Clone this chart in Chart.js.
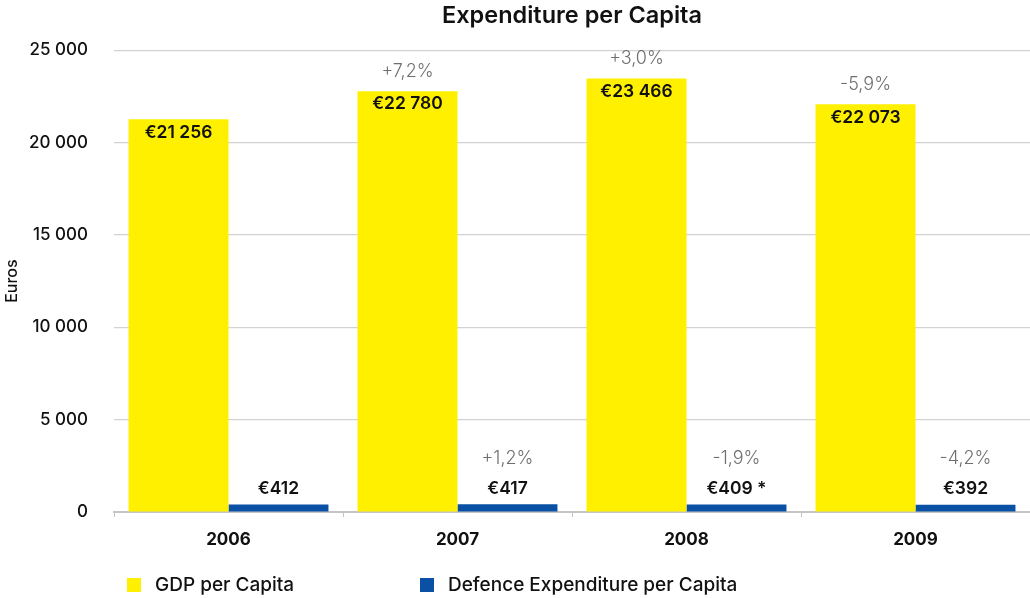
<!DOCTYPE html>
<html>
<head>
<meta charset="utf-8">
<script src="https://cdn.jsdelivr.net/npm/chart.js@4"></script>
<style>
  html, body { margin: 0; padding: 0; background: #fff; }
  #wrap { width: 1030px; height: 598px; position: relative; }
</style>
</head>
<body>
<div id="wrap"><canvas id="c"></canvas></div>
<script>
const years = ['2006', '2007', '2008', '2009'];
const gdpPerCapita = [21256, 22780, 23466, 22073];
const defencePerCapita = [412, 417, 409, 392];
const gdpChange = ['', '+7,2%', '+3,0%', '-5,9%'];
const defenceChange = ['', '+1,2%', '-1,9%', '-4,2%'];
const defenceNote = ['', '', ' *', ''];
const seriesNames = ['GDP per Capita', 'Defence Expenditure per Capita'];
const yTicks = [0, 5000, 10000, 15000, 20000, 25000];

const YELLOW = '#FFF000';
const BLUE = '#0A50A5';
const FONT = "Inter, 'Liberation Sans', Arial, sans-serif";

function fmt(n) {
  return String(n).replace(/\B(?=(\d{3})+(?!\d))/g, ' ');
}

const labelPlugin = {
  id: 'labels',
  afterDatasetsDraw(chart) {
    const ctx = chart.ctx;
    ctx.save();
    ctx.textAlign = 'center';
    ctx.textBaseline = 'middle';
    const m0 = chart.getDatasetMeta(0);
    const m1 = chart.getDatasetMeta(1);
    m0.data.forEach((bar, i) => {
      ctx.font = '600 17.5px ' + FONT;
      ctx.fillStyle = '#111';
      ctx.fillText('€' + fmt(gdpPerCapita[i]), bar.x, bar.y + 13);
      if (gdpChange[i]) {
        ctx.font = '300 18px ' + FONT;
        ctx.fillStyle = '#6f6f6f';
        ctx.fillText(gdpChange[i], bar.x, bar.y - 20);
      }
    });
    m1.data.forEach((bar, i) => {
      ctx.font = '600 17.5px ' + FONT;
      ctx.fillStyle = '#111';
      ctx.fillText('€' + fmt(defencePerCapita[i]) + defenceNote[i], bar.x, bar.y - 16);
      if (defenceChange[i]) {
        ctx.font = '300 18px ' + FONT;
        ctx.fillStyle = '#6f6f6f';
        ctx.fillText(defenceChange[i], bar.x, bar.y - 46);
      }
    });
    // legend
    const items = [
      { x: 127, color: YELLOW, text: seriesNames[0] },
      { x: 420, color: BLUE, text: seriesNames[1] }
    ];
    ctx.textAlign = 'left';
    items.forEach(it => {
      ctx.fillStyle = it.color;
      ctx.fillRect(it.x, 578, 14, 14);
      ctx.font = '500 19px ' + FONT;
      ctx.fillStyle = '#111';
      ctx.fillText(it.text, it.x + 28, 585);
    });
    ctx.restore();
  }
};

new Chart(document.getElementById('c'), {
  type: 'bar',
  data: {
    labels: years,
    datasets: [
      { label: seriesNames[0], data: gdpPerCapita, backgroundColor: YELLOW },
      { label: seriesNames[1], data: defencePerCapita, backgroundColor: BLUE }
    ]
  },
  options: {
    responsive: true,
    maintainAspectRatio: false,
    animation: false,
    devicePixelRatio: 1,
    layout: { padding: { left: 0, right: 0, top: 0, bottom: 38 } },
    datasets: { bar: { categoryPercentage: 0.873, barPercentage: 1.0 } },
    plugins: {
      legend: { display: false },
      tooltip: { enabled: false },
      title: {
        display: true,
        fullSize: false,
        text: 'Expenditure per Capita',
        color: '#111',
        font: { family: FONT, size: 23.5, weight: '600' },
        padding: { top: 2, bottom: 20 }
      }
    },
    scales: {
      x: {
        afterFit(scale) { scale.height = 48; },
        grid: { display: true, drawOnChartArea: false, drawTicks: true, tickLength: 5, color: '#c4c4c4', offset: true },
        border: { display: true, color: '#c4c4c4', width: 2 },
        ticks: { color: '#111', font: { family: FONT, size: 17, weight: '700' }, padding: 13 }
      },
      y: {
        min: 0,
        max: 25000,
        afterFit(scale) { scale.width = 114; },
        afterBuildTicks(scale) { scale.ticks = yTicks.map(v => ({ value: v })); },
        grid: { color: '#d2d2d2', lineWidth: 1.2, drawTicks: false },
        border: { display: false },
        ticks: {
          color: '#111',
          font: { family: FONT, size: 17, weight: '500' },
          padding: 26,
          callback: v => fmt(v)
        },
        title: {
          display: true,
          text: 'Euros',
          color: '#111',
          font: { family: FONT, size: 16, weight: '500' },
          padding: { top: 3, bottom: 12 }
        }
      }
    }
  },
  plugins: [labelPlugin]
});
</script>
</body>
</html>
